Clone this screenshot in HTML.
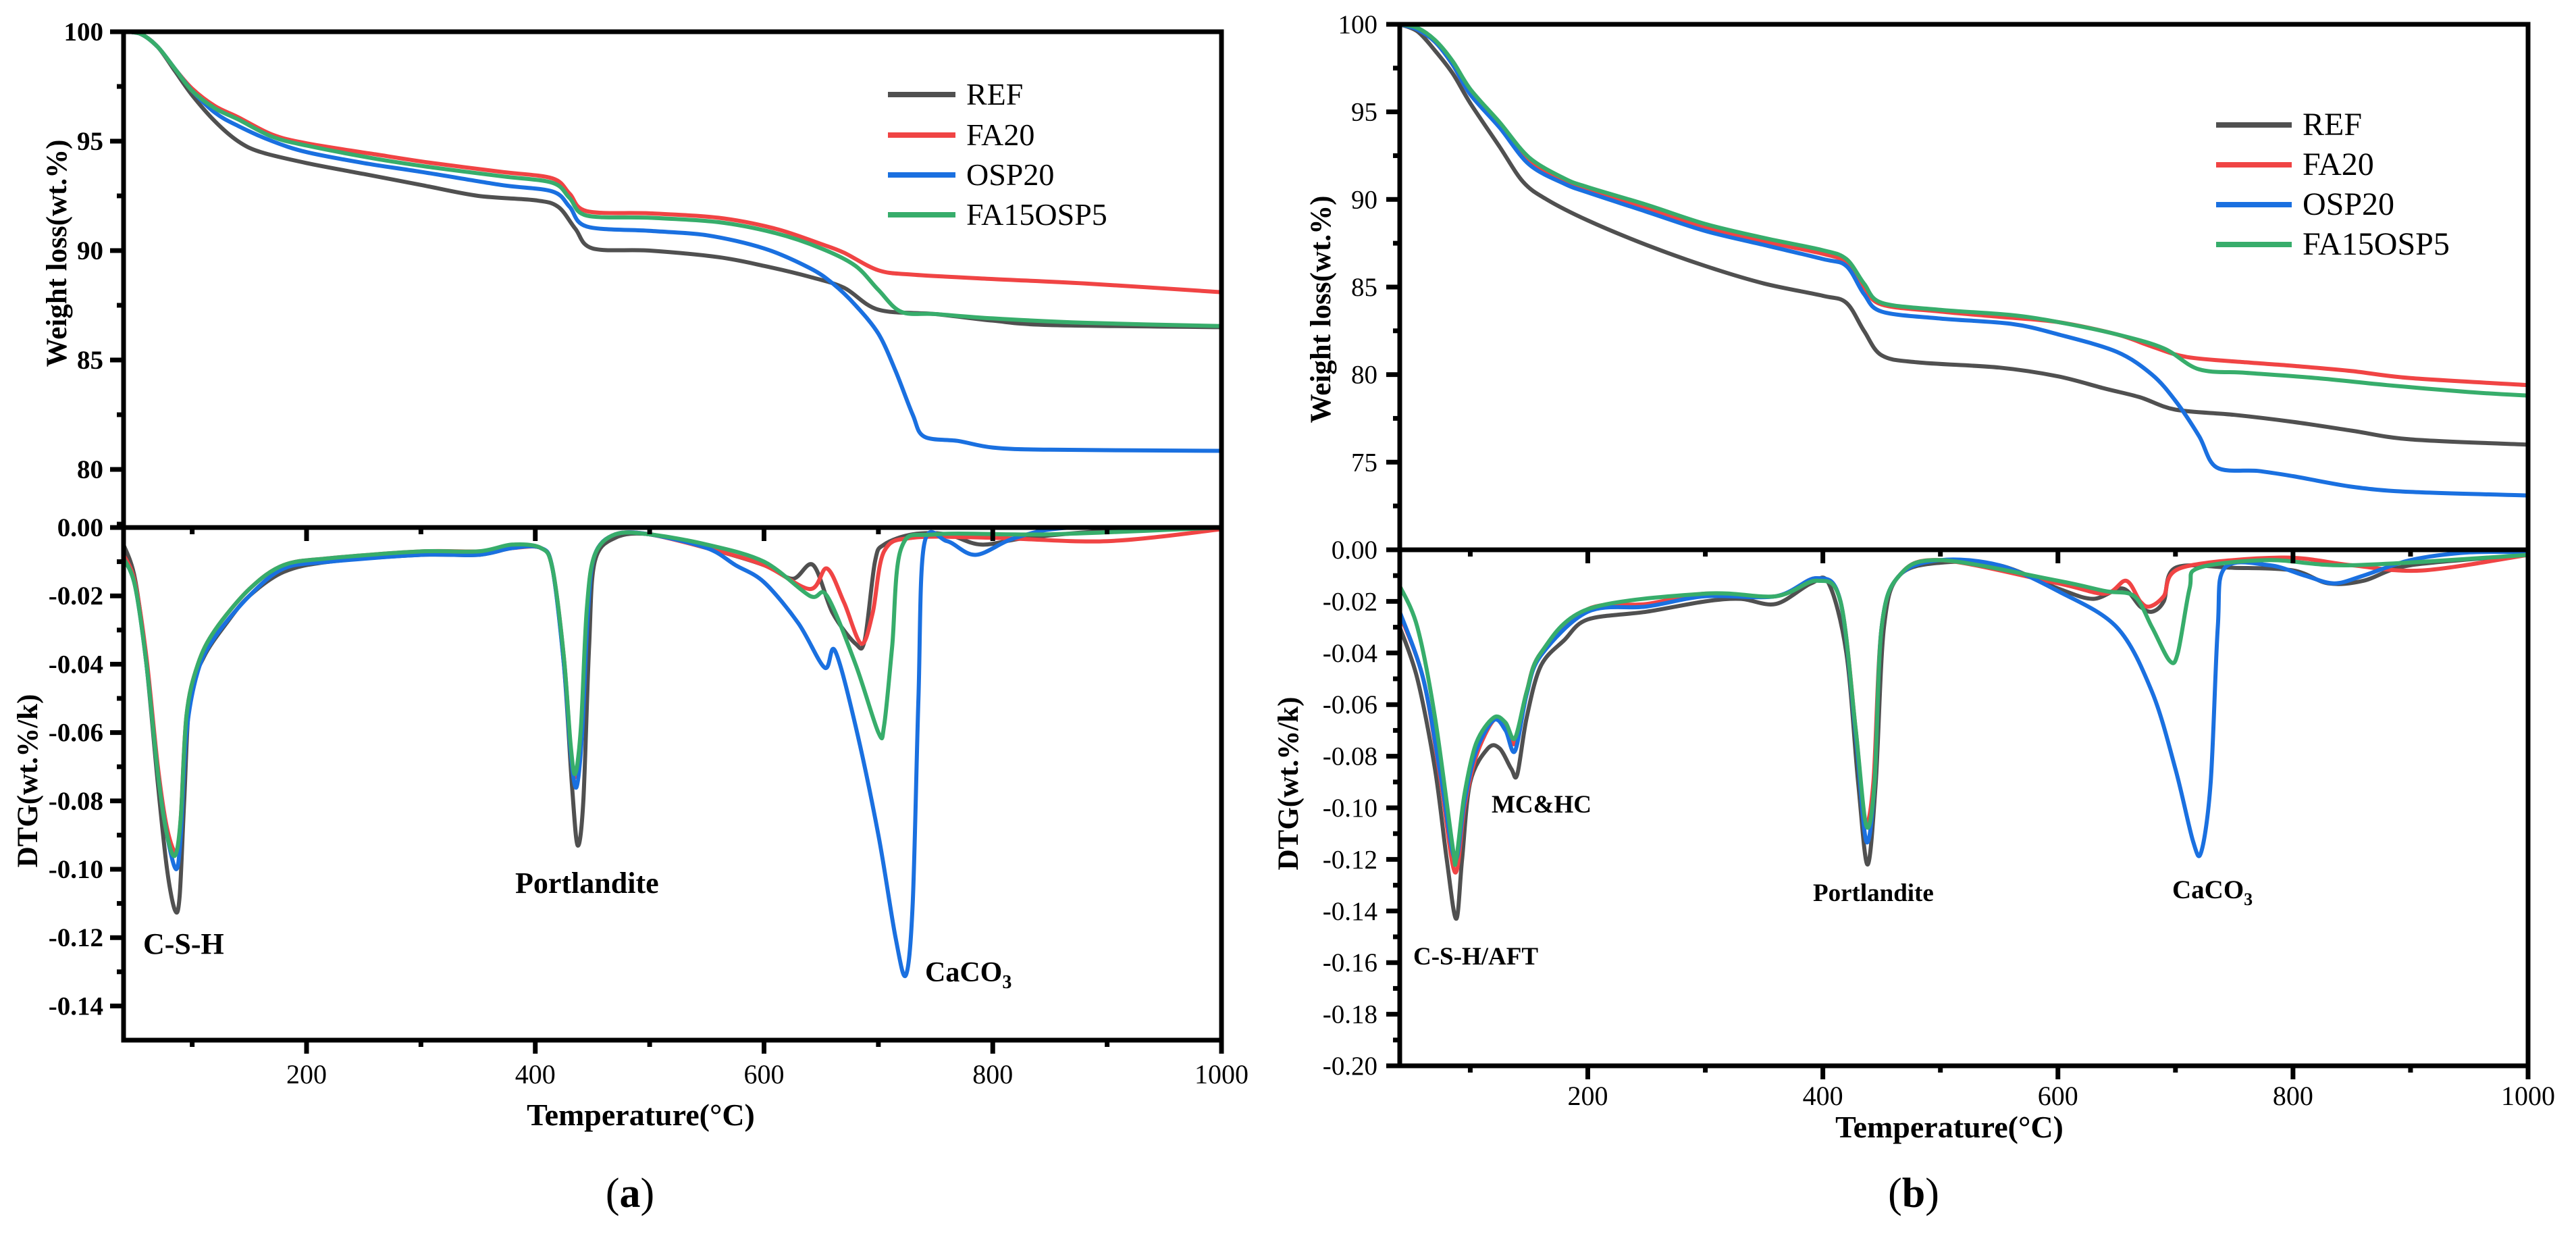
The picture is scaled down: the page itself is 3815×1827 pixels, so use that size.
<!DOCTYPE html>
<html><head><meta charset="utf-8"><style>
html,body{margin:0;padding:0;background:#fff;}
svg{display:block;}
svg text{font-family:"Liberation Serif","DejaVu Serif",serif;fill:#000;}
</style></head><body>
<svg id="fig" width="3815" height="1827" viewBox="0 0 3815 1827" xmlns="http://www.w3.org/2000/svg" font-family="Liberation Serif, DejaVu Serif, serif"></svg>
<script>
// ===== DATA (panel a) =====
const seriesNames = ["REF","FA20","OSP20","FA15OSP5"];
const seriesColors = ["#505050","#f04444","#1a70e0","#37ad6b"];

const aTG_T_REF = [40,55,70,85,100,120,140,160,200,250,300,350,400,420,435,450,500,560,600,640,670,700,750,800,850,1000];
const aTG_V_REF = [100,99.9,99.3,98.2,97.1,95.9,95.0,94.5,94.0,93.5,93.0,92.5,92.3,92.0,91.0,90.1,90.0,89.7,89.3,88.8,88.3,87.3,87.1,86.8,86.6,86.5];
const aTG_T_FA20 = [40,55,70,85,100,120,140,170,200,260,310,370,415,430,445,500,560,610,650,670,700,730,800,880,1000];
const aTG_V_FA20 = [100,99.9,99.3,98.3,97.4,96.6,96.1,95.3,94.9,94.4,94.0,93.6,93.3,92.6,91.8,91.7,91.5,91.0,90.3,89.9,89.1,88.9,88.7,88.5,88.1];
const aTG_T_OSP20 = [40,55,70,85,100,120,140,170,200,250,300,370,415,430,445,500,550,600,640,660,680,700,715,730,740,770,800,850,1000];
const aTG_V_OSP20 = [100,99.9,99.3,98.3,97.3,96.3,95.7,95.0,94.5,94.0,93.6,93.0,92.7,92.0,91.1,90.9,90.7,90.1,89.2,88.5,87.5,86.2,84.5,82.5,81.5,81.3,81.0,80.9,80.85];
const aTG_T_FA15 = [40,55,70,85,100,120,140,170,200,260,310,370,415,430,445,500,560,610,650,680,700,720,750,800,880,1000];
const aTG_V_FA15 = [100,99.9,99.3,98.3,97.3,96.5,96.0,95.2,94.8,94.2,93.8,93.4,93.1,92.4,91.6,91.5,91.3,90.8,90.1,89.3,88.2,87.2,87.1,86.9,86.7,86.55];

const aDTG_T_REF = [40,50,60,70,78,85,89,93,98,110,130,150,180,220,300,350,380,405,415,425,432,437,442,447,452,470,500,550,600,625,643,660,680,688,697,705,730,760,790,830,900,1000];
const aDTG_V_REF = [-0.005,-0.015,-0.04,-0.075,-0.1,-0.112,-0.108,-0.08,-0.05,-0.038,-0.028,-0.02,-0.013,-0.01,-0.008,-0.008,-0.006,-0.006,-0.012,-0.04,-0.075,-0.093,-0.08,-0.035,-0.01,-0.003,-0.002,-0.006,-0.011,-0.015,-0.011,-0.025,-0.034,-0.033,-0.01,-0.005,-0.002,-0.002,-0.005,-0.003,-0.001,0];
const aDTG_T_FA20 = [40,50,60,70,78,86,90,95,105,120,150,180,220,300,350,380,405,415,425,431,435,440,445,452,470,500,550,600,640,655,670,685,695,705,730,800,900,1000];
const aDTG_V_FA20 = [-0.008,-0.016,-0.038,-0.07,-0.088,-0.095,-0.085,-0.055,-0.04,-0.03,-0.018,-0.011,-0.009,-0.007,-0.007,-0.006,-0.006,-0.012,-0.038,-0.065,-0.073,-0.06,-0.025,-0.008,-0.002,-0.002,-0.006,-0.011,-0.018,-0.012,-0.022,-0.034,-0.025,-0.007,-0.003,-0.003,-0.004,-0.0005];
const aDTG_T_OSP20 = [40,50,60,70,78,86,90,95,105,120,150,180,220,300,350,380,405,415,425,431,436,441,446,452,470,500,550,575,600,630,653,662,680,700,715,724,730,735,740,760,785,820,870,1000];
const aDTG_V_OSP20 = [-0.009,-0.017,-0.04,-0.072,-0.09,-0.1,-0.09,-0.06,-0.042,-0.032,-0.02,-0.012,-0.01,-0.008,-0.008,-0.006,-0.006,-0.012,-0.04,-0.066,-0.076,-0.06,-0.025,-0.008,-0.002,-0.002,-0.006,-0.011,-0.016,-0.028,-0.041,-0.036,-0.058,-0.09,-0.12,-0.131,-0.11,-0.05,-0.005,-0.004,-0.008,-0.003,0,0];
const aDTG_T_FA15 = [40,50,60,70,78,85,90,95,105,120,150,180,220,300,350,380,405,415,425,431,435,440,445,452,470,500,550,600,640,655,680,700,705,712,720,750,850,1000];
const aDTG_V_FA15 = [-0.009,-0.017,-0.04,-0.072,-0.09,-0.096,-0.085,-0.055,-0.04,-0.03,-0.018,-0.011,-0.009,-0.007,-0.007,-0.005,-0.006,-0.012,-0.038,-0.064,-0.072,-0.058,-0.024,-0.008,-0.002,-0.002,-0.005,-0.01,-0.02,-0.02,-0.04,-0.06,-0.058,-0.035,-0.006,-0.002,-0.002,0];

// ===== DATA (panel b) =====
const bTG_T_REF = [40,55,70,85,100,125,145,165,200,250,300,350,400,420,435,450,480,550,600,640,670,700,750,800,850,900,1000];
const bTG_V_REF = [100,99.6,98.5,97.2,95.5,93.0,91.0,90.0,88.8,87.4,86.2,85.2,84.5,84.1,82.5,81.1,80.7,80.4,79.9,79.2,78.7,78.0,77.7,77.3,76.8,76.3,76.0];
const bTG_T_FA20 = [40,55,70,85,100,125,150,180,200,250,300,350,400,420,435,450,500,550,600,650,680,710,760,800,850,900,1000];
const bTG_V_FA20 = [100,99.7,99.0,97.7,96.0,94.2,92.2,91.0,90.5,89.5,88.4,87.6,86.9,86.4,85.0,84.0,83.6,83.3,83.0,82.3,81.6,81.0,80.7,80.5,80.2,79.8,79.4];
const bTG_T_OSP20 = [40,55,70,85,100,125,150,180,200,250,300,350,400,420,435,450,500,560,600,650,680,700,720,735,770,800,850,900,1000];
const bTG_V_OSP20 = [100,99.7,99.0,97.7,96.0,94.1,92.0,90.9,90.4,89.3,88.2,87.4,86.6,86.2,84.6,83.6,83.2,82.9,82.3,81.3,80.0,78.5,76.5,74.7,74.5,74.2,73.6,73.3,73.1];
const bTG_T_FA15 = [40,55,70,85,100,125,150,180,200,250,300,350,400,420,435,450,500,560,600,650,690,720,760,820,880,950,1000];
const bTG_V_FA15 = [100,99.8,99.1,97.9,96.3,94.4,92.4,91.2,90.7,89.7,88.6,87.8,87.1,86.6,85.2,84.1,83.7,83.4,83.0,82.3,81.5,80.3,80.1,79.8,79.4,79.0,78.8];

const bDTG_T_REF = [40,55,70,80,88,93,100,115,125,135,140,148,160,180,200,250,300,330,360,390,405,420,430,438,445,452,465,500,550,600,630,655,670,680,690,700,750,800,830,860,900,1000];
const bDTG_V_REF = [-0.03,-0.05,-0.085,-0.12,-0.143,-0.12,-0.09,-0.077,-0.077,-0.085,-0.087,-0.065,-0.045,-0.035,-0.027,-0.024,-0.02,-0.019,-0.021,-0.013,-0.013,-0.04,-0.09,-0.122,-0.09,-0.03,-0.01,-0.005,-0.006,-0.015,-0.019,-0.015,-0.022,-0.024,-0.02,-0.007,-0.007,-0.008,-0.013,-0.012,-0.006,-0.002];
const bDTG_T_FA20 = [40,60,75,87,95,105,120,130,138,148,160,200,250,300,360,395,415,428,436,443,450,465,500,600,640,658,670,678,690,705,790,850,910,1000];
const bDTG_V_FA20 = [-0.025,-0.05,-0.09,-0.125,-0.1,-0.08,-0.066,-0.068,-0.075,-0.055,-0.04,-0.023,-0.021,-0.017,-0.018,-0.011,-0.02,-0.07,-0.105,-0.09,-0.03,-0.01,-0.004,-0.013,-0.017,-0.012,-0.02,-0.022,-0.018,-0.007,-0.003,-0.006,-0.008,-0.002];
const bDTG_T_OSP20 = [40,60,75,87,95,105,120,130,138,148,160,200,250,300,360,395,415,428,437,444,450,465,500,550,600,650,680,700,715,722,730,736,742,780,810,835,860,900,950,1000];
const bDTG_V_OSP20 = [-0.024,-0.05,-0.088,-0.12,-0.098,-0.078,-0.066,-0.07,-0.078,-0.056,-0.041,-0.024,-0.022,-0.018,-0.018,-0.011,-0.02,-0.072,-0.113,-0.09,-0.03,-0.01,-0.004,-0.006,-0.016,-0.03,-0.055,-0.085,-0.113,-0.117,-0.09,-0.03,-0.007,-0.006,-0.01,-0.013,-0.01,-0.004,-0.001,-0.001];
const bDTG_T_FA15 = [40,55,70,85,88,95,105,120,130,138,148,160,200,300,360,395,415,428,437,444,450,465,500,600,640,665,680,695,702,712,720,780,850,1000];
const bDTG_V_FA15 = [-0.014,-0.03,-0.065,-0.115,-0.12,-0.095,-0.075,-0.065,-0.067,-0.073,-0.055,-0.04,-0.023,-0.017,-0.018,-0.012,-0.02,-0.07,-0.107,-0.09,-0.03,-0.01,-0.004,-0.012,-0.016,-0.018,-0.03,-0.043,-0.04,-0.015,-0.007,-0.004,-0.006,-0.002];

const xTicks = [200,400,600,800,1000];
const xMinor = [100,300,500,700,900];
const aTGTicks = [100,95,90,85,80];
const aTGMinor = [97.5,92.5,87.5,82.5,77.5];
const aDTGTicks = [0,-0.02,-0.04,-0.06,-0.08,-0.10,-0.12,-0.14];
const bTGTicks = [100,95,90,85,80,75];
const bTGMinor = [97.5,92.5,87.5,82.5,77.5,72.5];
const bDTGTicks = [0,-0.02,-0.04,-0.06,-0.08,-0.10,-0.12,-0.14,-0.16,-0.18,-0.20];

const NS = "http://www.w3.org/2000/svg";
const FF = '"Liberation Serif", "DejaVu Serif", serif';
const svg = document.getElementById('fig');
function mk(tag, attrs, parent){
  const e = document.createElementNS(NS, tag);
  for (const k in attrs) e.setAttribute(k, attrs[k]);
  if (tag==='text') e.setAttribute('font-family', FF);
  (parent||svg).appendChild(e);
  return e;
}
function spline(pts){
  let d = "M"+pts[0][0].toFixed(1)+","+pts[0][1].toFixed(1);
  for (let i=0;i<pts.length-1;i++){
    const p0=pts[Math.max(0,i-1)], p1=pts[i], p2=pts[i+1], p3=pts[Math.min(pts.length-1,i+2)];
    const t=0.16;
    const c1x=p1[0]+(p2[0]-p0[0])*t, c1y=p1[1]+(p2[1]-p0[1])*t;
    const c2x=p2[0]-(p3[0]-p1[0])*t, c2y=p2[1]-(p3[1]-p1[1])*t;
    d += " C"+c1x.toFixed(1)+","+c1y.toFixed(1)+" "+c2x.toFixed(1)+","+c2y.toFixed(1)+" "+p2[0].toFixed(1)+","+p2[1].toFixed(1);
  }
  return d;
}

function panel(P){
  const g = mk('g',{});
  
  
  const xs = t => P.x0 + (t-40)/(960)*(P.x1-P.x0);
  const yTG = v => P.top + (100-v)*P.tgScale;
  const yD = v => P.div + (-v)*P.dScale;
  const cid = P.id+'clipTG', cid2 = P.id+'clipD';
  const defs = mk('defs',{},g);
  const c1 = mk('clipPath',{id:cid},defs); mk('rect',{x:P.x0,y:P.top,width:P.x1-P.x0,height:P.div-P.top},c1);
  const c2 = mk('clipPath',{id:cid2},defs); mk('rect',{x:P.x0,y:P.div,width:P.x1-P.x0,height:P.bot-P.div},c2);
  for (let s=0;s<4;s++){
    const tg = P.tg[s], dt = P.dtg[s];
    const p1 = mk('path',{d:spline(tg[0].map((t,i)=>[xs(t),yTG(tg[1][i])])),fill:'none',stroke:seriesColors[s],'stroke-width':6,'stroke-linejoin':'round','clip-path':'url(#'+cid+')'},g);
    
    
    const p2 = mk('path',{d:spline(dt[0].map((t,i)=>[xs(t),yD(dt[1][i])])),fill:'none',stroke:seriesColors[s],'stroke-width':6,'stroke-linejoin':'round','clip-path':'url(#'+cid2+')'},g);
    
    
  }
  const fr = mk('path',{d:`M${P.x0},${P.top}H${P.x1}V${P.bot}H${P.x0}Z M${P.x0-20},${P.div}H${P.x1}`,fill:'none',stroke:'#000','stroke-width':7},g);
  
  
  const fw = P.bold?'bold':'normal';
  xTicks.forEach(t=>{
    const x=xs(t);
    mk('line',{x1:x,y1:P.bot,x2:x,y2:P.bot+20,stroke:'#000','stroke-width':7},g);
    mk('line',{x1:x,y1:P.div,x2:x,y2:P.div+20,stroke:'#000','stroke-width':7},g);
    const tx = mk('text',{x:x,y:P.xlabY,'text-anchor':'middle','font-size':40},g);
    tx.textContent = t;
    
    
  });
  xMinor.forEach(t=>{
    const x=xs(t);
    mk('line',{x1:x,y1:P.bot,x2:x,y2:P.bot+10,stroke:'#000','stroke-width':7},g);
    mk('line',{x1:x,y1:P.div,x2:x,y2:P.div+10,stroke:'#000','stroke-width':7},g);
  });
  P.tgTicks.forEach(v=>{
    const y=yTG(v);
    mk('line',{x1:P.x0-20,y1:y,x2:P.x0,y2:y,stroke:'#000','stroke-width':7},g);
    const tx = mk('text',{x:P.ylabX,y:y+13,'text-anchor':'end','font-size':39,'font-weight':fw},g);
    tx.textContent = v;
    
    
  });
  P.tgMinor.forEach(v=>{
    const y=yTG(v); if (y>P.div-5) return;
    mk('line',{x1:P.x0-10,y1:y,x2:P.x0,y2:y,stroke:'#000','stroke-width':7},g);
  });
  P.dTicks.forEach((v,i)=>{
    const y=yD(v);
    mk('line',{x1:P.x0-20,y1:y,x2:P.x0,y2:y,stroke:'#000','stroke-width':7},g);
    const y2=yD(v-0.01); if (y2<P.bot-3) mk('line',{x1:P.x0-10,y1:y2,x2:P.x0,y2:y2,stroke:'#000','stroke-width':7},g);
    const tx = mk('text',{x:P.ylabX,y:y+13,'text-anchor':'end','font-size':39,'font-weight':fw},g);
    tx.textContent = v.toFixed(2);
    
    
  });
  let t = mk('text',{x:0,y:0,'text-anchor':'middle','font-size':43,'font-weight':'bold',transform:`translate(${P.tgTitleX},${P.tgTitleY}) rotate(-90)`},g);
  t.textContent='Weight loss(wt.%)';
  
  
  t = mk('text',{x:0,y:0,'text-anchor':'middle','font-size':43,'font-weight':'bold',transform:`translate(${P.dTitleX},${P.dTitleY}) rotate(-90)`},g);
  t.textContent='DTG(wt.%/k)';
  
  
  t = mk('text',{x:P.xTitleX,y:P.xTitleY,'text-anchor':'middle','font-size':46,'font-weight':'bold'},g);
  t.textContent='Temperature(°C)';
  
  
  t = mk('text',{x:P.capX,y:1787,'text-anchor':'middle','font-size':62},g);
  t.innerHTML='(<tspan font-weight="bold">'+P.id+'</tspan>)';
  
  
  P.legY.forEach((y,i)=>{
    const l = mk('line',{x1:P.legX,y1:y,x2:P.legX+P.legW,y2:y,stroke:seriesColors[i],'stroke-width':8},g);
    
    
    const tx = mk('text',{x:P.legX+P.legW+16,y:y+15,'font-size':P.legFs},g);
    tx.textContent=seriesNames[i];
    
    
  });
  P.ann.forEach(a=>{
    const tx = mk('text',{x:a[1],y:a[2],'font-size':a[3],'font-weight':'bold'},g);
    tx.innerHTML=a[0];
    
    
  });
}

panel({id:'a',bold:true,x0:183,x1:1809,top:47,div:781,bot:1540,tgScale:32.4,dScale:5060,
  tg:[[aTG_T_REF,aTG_V_REF],[aTG_T_FA20,aTG_V_FA20],[aTG_T_OSP20,aTG_V_OSP20],[aTG_T_FA15,aTG_V_FA15]],
  dtg:[[aDTG_T_REF,aDTG_V_REF],[aDTG_T_FA20,aDTG_V_FA20],[aDTG_T_OSP20,aDTG_V_OSP20],[aDTG_T_FA15,aDTG_V_FA15]],
  tgTicks:aTGTicks,tgMinor:aTGMinor,dTicks:aDTGTicks,ylabX:153,xlabY:1604,
  tgTitleX:98,tgTitleY:375,dTitleX:55,dTitleY:1156,xTitleX:949,xTitleY:1666,capX:933,
  legX:1315,legW:100,legY:[140,200,259,318],legFs:46,
  ann:[['C-S-H',212,1412,44],['Portlandite',763,1322,44],['CaCO<tspan font-size="28" dy="10">3</tspan>',1370,1453,42]]});

panel({id:'b',bold:false,x0:2073,x1:3744,top:36,div:814,bot:1578,tgScale:25.93,dScale:3820,
  tg:[[bTG_T_REF,bTG_V_REF],[bTG_T_FA20,bTG_V_FA20],[bTG_T_OSP20,bTG_V_OSP20],[bTG_T_FA15,bTG_V_FA15]],
  dtg:[[bDTG_T_REF,bDTG_V_REF],[bDTG_T_FA20,bDTG_V_FA20],[bDTG_T_OSP20,bDTG_V_OSP20],[bDTG_T_FA15,bDTG_V_FA15]],
  tgTicks:bTGTicks,tgMinor:bTGMinor,dTicks:bDTGTicks,ylabX:2040,xlabY:1636,
  tgTitleX:1970,tgTitleY:458,dTitleX:1922,dTitleY:1160,xTitleX:2887,xTitleY:1684,capX:2834,
  legX:3282,legW:112,legY:[185,244,303,362],legFs:48,
  ann:[['MC&amp;HC',2209,1203,37],['C-S-H/AFT',2093,1428,37],['Portlandite',2685,1334,37],['CaCO<tspan font-size="26" dy="10">3</tspan>',3217,1330,39]]});
</script>
</body></html>
